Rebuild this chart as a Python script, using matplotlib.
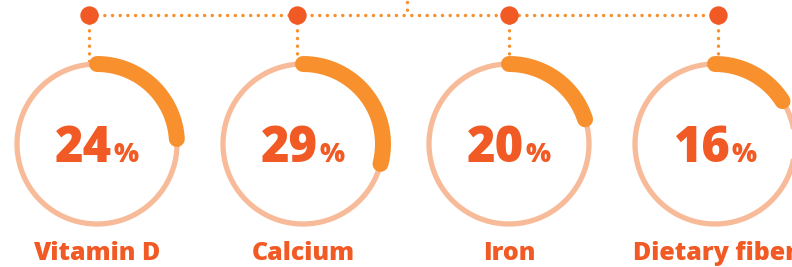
import numpy as np
import matplotlib.pyplot as plt

# data
nutrients = ['Vitamin D', 'Calcium', 'Iron', 'Dietary fiber']
percents = [24, 29, 20, 16]

# layout (pixels)
W, H = 792, 267
centers_x = [97, 303, 509, 715]
dot_offsets = [-8, -6, 0, 3]
cy = 144
r = 80
top_y = 14.5

red = '#F15A24'
orange = '#F7902D'
peach = '#F8BB99'

fig = plt.figure(figsize=(W / 100, H / 100), dpi=100)
ax = fig.add_axes([0, 0, 1, 1])
ax.set_xlim(0, W)
ax.set_ylim(H, 0)
ax.set_aspect('equal')
ax.axis('off')

dotted = dict(color=orange, lw=2.5, linestyle=(0, (0.01, 2.2)),
              dash_capstyle='round', zorder=1)

dot_x = [c + o for c, o in zip(centers_x, dot_offsets)]
ax.plot([dot_x[0], dot_x[-1]], [top_y, top_y], **dotted)
ax.plot([407, 407], [2, top_y], **dotted)

theta = np.linspace(0, 2 * np.pi, 400)
for cx, dx, pct, name in zip(centers_x, dot_x, percents, nutrients):
    # background ring
    ax.plot(cx + r * np.sin(theta), cy - r * np.cos(theta), color=peach,
            lw=3.8, zorder=2)
    # progress arc, clockwise from 12 o'clock
    t = np.linspace(0, 2 * np.pi * pct / 100, 200)
    ax.plot(cx + r * np.sin(t), cy - r * np.cos(t), color=orange, lw=11.5,
            solid_capstyle='round', zorder=3)
    # connector
    ax.plot([dx, dx], [top_y, cy - r - 2], **dotted)
    ax.scatter([dx], [top_y], s=175, color=red, zorder=4, linewidths=0)
    # labels
    ax.text(cx + 15, 162, str(pct), ha='right', va='baseline', color=red,
            fontsize=35, fontweight=800, family='Open Sans')
    ax.text(cx + 17, 162, '%', ha='left', va='baseline', color=red,
            fontsize=19, fontweight=800, family='Open Sans')
    ax.text(cx, 260, name, ha='center', va='baseline', color=red,
            fontsize=18, fontweight=800, family='Open Sans')

fig.savefig('out.png', dpi=100)
